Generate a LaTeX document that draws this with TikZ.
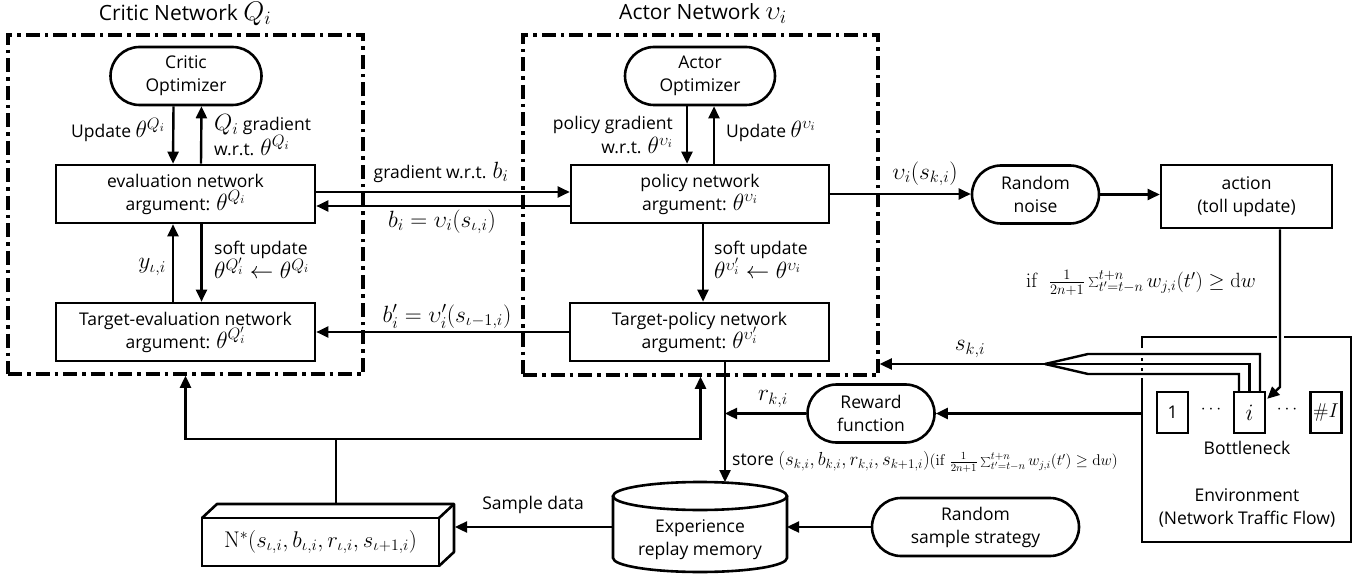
\RequirePackage{fix-cm}
\documentclass[tikz,border=0pt]{standalone}
\usepackage[no-math]{fontspec}
\setmainfont{Open Sans}
\usetikzlibrary{arrows.meta}
\newcommand{\mth}[1]{{\fontsize{23.5}{23}\selectfont$#1$}}
\begin{document}
\lineskiplimit=-30pt
\begin{tikzpicture}[x=1pt,y=-1pt,
  every node/.style={font=\fontsize{17.5}{23}\selectfont},
  box/.style={draw,line width=2.6pt,minimum width=259pt,minimum height=58pt,align=center,inner sep=1pt},
  stadium/.style={draw,line width=2.6pt,rounded corners=29pt,minimum height=58pt,align=center,inner sep=1pt},
  sbox/.style={draw,line width=2.4pt,minimum width=31pt,minimum height=41pt,inner sep=0pt},
  ln/.style={line width=2.4pt},
  bl/.style={line width=2.6pt},
  arr/.style={line width=2.4pt,-{Triangle[length=12pt,width=11pt]}},
  dashbox/.style={draw,line width=3.5pt,dash pattern=on 14pt off 5pt on 3.5pt off 5pt,minimum width=355pt,minimum height=339pt,inner sep=0pt},
  lbl/.style={inner sep=1pt,font=\fontsize{17.5}{24.5}\selectfont},
  ttl/.style={font=\fontsize{21}{25}\selectfont}
]
\useasboundingbox (0,0) rectangle (1370,577);

% titles
\node[ttl] (tc) at (185,14) {Critic Network\ {\fontsize{27}{27}\selectfont$Q_i$}};
\node[ttl] (ta) at (703,14) {Actor Network\ {\fontsize{27}{27}\selectfont$\upsilon_i$}};

% dash-dot frames
\node[dashbox] (critic) at (185.5,204.5) {};
\node[dashbox,minimum height=340pt] (actor) at (700.5,205) {};

% critic
\node[stadium,minimum width=151pt] (copt) at (186,76) {Critic\\Optimizer};
\node[box] (eval) at (185.5,194) {evaluation network\\argument: \mth{\theta^{Q_i}}};
\node[box] (teval) at (185.5,332) {Target-evaluation network\\argument: \mth{\theta^{Q'_i}}};

% actor
\node[stadium,minimum width=150pt] (aopt) at (700,76) {Actor\\Optimizer};
\node[box,minimum width=258pt] (pol) at (700,194) {policy network\\argument: \mth{\theta^{\upsilon_i}}};
\node[box] (tpol) at (699.5,332) {Target-policy network\\argument: \mth{\theta^{\upsilon'_i}}};

% right part
\node[stadium,minimum width=127pt] (noise) at (1035.5,194.5) {Random\\noise};
\node[box,minimum width=171pt,minimum height=63pt] (act) at (1246.5,196.5) {action\\(toll update)};
\node[stadium,minimum width=127pt] (rew) at (871,413.5) {Reward\\function};
\node[stadium,minimum width=207pt] (rss) at (975.5,527) {Random\\sample strategy};

% environment
\node[minimum width=209pt,minimum height=205pt,inner sep=0pt,outer sep=0pt] (env) at (1246.5,439.5) {};
\draw[bl] (1284,337) -- (env.north east) -- (env.south east) -- (env.south west) -- (1142,378);
\draw[bl] (1142,348) -- (env.north west) -- (1277,337);
\fill (1141,357.5) rectangle (1143,360.5);
\fill (1141,367.5) rectangle (1143,370.5);
\node[sbox] (b1) at (1172.5,412.5) {1};
\node[sbox] (bi) at (1249.5,412.5) {\mth{i}};
\node[sbox] (bI) at (1326,412.5) {{\fontsize{20}{20}\selectfont$\#I$}};
\node (d1) at (1211,410) {$\cdots$};
\node (d2) at (1287,410) {$\cdots$};
\node (bn) at (1247,448) {Bottleneck};
\node[align=center] (envt) at (1247,508) {Environment\\(Network Traffic Flow)};

% memory cylinder
\node[minimum width=174pt,minimum height=90pt,inner sep=0pt,outer sep=0pt] (mem) at (700,527) {};
\draw[bl] (700,496) ellipse [x radius=87pt,y radius=14pt];
\draw[bl] (613,496) -- (613,558) arc[start angle=180,end angle=360,x radius=87pt,y radius=14pt] -- (787,496);
\node[align=center] (memt) at (700,540) {Experience\\replay memory};

% N* buffer box
\node[draw,bl,minimum width=237pt,minimum height=48pt,outer sep=0pt,inner sep=0pt] (nbuf) at (320.5,542) {{\fontsize{22.7}{22}\selectfont$\mathrm{N}^*(s_{\iota,i},b_{\iota,i},r_{\iota,i},s_{\iota+1,i})$}};
\draw[bl,line join=round] (nbuf.north west) -- ++(15,-14) -- ++(237,0) -- ++(0,48) -- (nbuf.south east);
\draw[bl] (nbuf.north east) -- ++(15,-14);
\coordinate (nback) at (455,527);
\coordinate (ntop) at (336,504);
\coordinate (fb) at (336,439);

% critic arrows
\draw[arr] ([xshift=-12.5pt]copt.south) -- ([xshift=-12.5pt]eval.north);
\draw[arr] ([xshift=15.5pt]eval.north) -- ([xshift=15.5pt]copt.south);
\draw[arr] ([xshift=-12.5pt]teval.north) -- ([xshift=-12.5pt]eval.south);
\draw[arr] ([xshift=16pt]eval.south) -- ([xshift=16pt]teval.north);
% actor arrows
\draw[arr] ([xshift=-13pt]aopt.south) -- ([xshift=-13pt]pol.north);
\draw[arr] ([xshift=14pt]pol.north) -- ([xshift=14pt]aopt.south);
\draw[arr] ([xshift=3pt]pol.south) -- ([xshift=3.5pt]tpol.north);
% between networks
\draw[arr] ([yshift=2pt]eval.east) -- ([yshift=2pt]pol.west);
\draw[arr] ([yshift=-12pt]pol.west) -- ([yshift=-12pt]eval.east);
\draw[arr] (tpol.west) -- (teval.east);
% to the right
\draw[arr] (pol.east) -- (pol.east -| noise.west);
\draw[arr] (noise.east) -- (noise.east -| act.west);
\coordinate (ab) at (1280,387);
\draw[arr] (act.south -| ab) -- (ab) -- ([xshift=1pt,yshift=-8pt]bi.north east);
% state lines
\coordinate (conv) at (1045,364);
\draw[ln] ([xshift=10.5pt]bi.north) |- (1088,354) -- (conv);
\draw[ln] (bi.north) |- (conv);
\draw[ln] ([xshift=-10.5pt]bi.north) |- (1088,374) -- (conv);
\draw[arr] (conv) -- (conv -| actor.east);
% reward and store
\coordinate (stem) at (725,361);
\draw[arr] (env.west |- rew.east) -- (rew.east);
\draw[arr] (rew.west) -- (rew.west -| stem);
\draw[arr] ([xshift=25.5pt]tpol.south) -- ([xshift=25pt]mem.north);
\draw[arr] (rss.west) -- (mem.east);
\draw[arr] (mem.west) -- (nback);
% feedback
\draw[ln] (ntop) -- (fb);
\draw[arr] (fb) -| (critic.south);
\draw[arr] (fb) -| (actor.south);

% labels
\node[lbl,anchor=east] (l1) at (166,130) {Update \mth{\theta^{Q_i}}};
\node[lbl,anchor=west,align=left] (l2) at (213,135) {\mth{Q_i} gradient\\w.r.t. \mth{\theta^{Q_i}}};
\node[lbl,anchor=east] (l3) at (167,267) {\mth{y_{\iota,i}}};
\node[lbl,anchor=west,align=left] (l4) at (213,260) {soft update\\\mth{\theta^{Q'_i}\leftarrow\theta^{Q_i}}};
\node[lbl] (l5) at (441,172) {gradient w.r.t. \mth{b_i}};
\node[lbl] (l6) at (442,222) {\mth{b_i=\upsilon_i(s_{\iota,i})}};
\node[lbl] (l7) at (447,317) {\mth{b'_i=\upsilon'_i(s_{\iota-1,i})}};
\node[lbl,anchor=east,align=right] (l8) at (674,135) {policy gradient\\w.r.t. \mth{\theta^{\upsilon_i}}};
\node[lbl,anchor=west] (l9) at (725,131) {Update \mth{\theta^{\upsilon_i}}};
\node[lbl,anchor=west,align=left] (l10) at (713,260) {soft update\\\mth{\theta^{\upsilon'_i}\leftarrow\theta^{\upsilon_i}}};
\node[lbl] (l11) at (925,174) {\mth{\upsilon_i(s_{k,i})}};
\node[lbl,font=\fontsize{20.6}{21}\selectfont] (l12) at (1141,283) {$\mathrm{if}\ \ \frac{1}{2n+1}\sum_{t'=t-n}^{t+n}w_{j,i}(t')\geq\mathrm{d}w$};
\node[lbl] (l13) at (970,349) {\mth{s_{k,i}}};
\node[lbl] (l14) at (773,399) {\mth{r_{k,i}}};
\node[lbl,anchor=west] (l15) at (731,462) {store {\fontsize{18.9}{19}\selectfont$(s_{k,i},b_{k,i},r_{k,i},s_{k+1,i})$}{\fontsize{15.5}{16}\selectfont$(\mathrm{if}\ \frac{1}{2n+1}\sum_{t'=t-n}^{t+n}w_{j,i}(t')\geq\mathrm{d}w)$}};
\node[lbl] (l16) at (533,505) {Sample data};
\end{tikzpicture}
\end{document}
